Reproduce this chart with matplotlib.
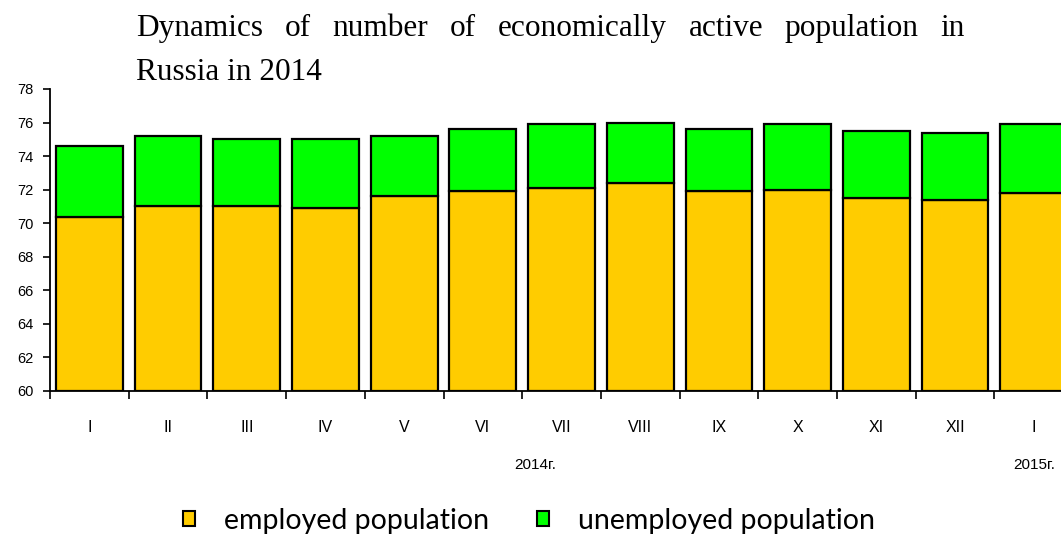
import matplotlib
matplotlib.use("Agg")
import matplotlib.pyplot as plt
import numpy as np

months = ["I", "II", "III", "IV", "V", "VI", "VII", "VIII", "IX", "X", "XI", "XII", "I"]
employed = [70.4, 71.0, 71.0, 70.9, 71.6, 71.9, 72.1, 72.4, 71.9, 72.0, 71.5, 71.4, 71.8]
unemployed = [4.2, 4.2, 4.0, 4.1, 3.6, 3.7, 3.8, 3.6, 3.7, 3.9, 4.0, 4.0, 4.1]
year_labels = ["2014г.", "2015г."]
year_pos = [5.66, 12.0]
title_line1 = "Dynamics of number of economically active population in"
title_line2 = "Russia in 2014"

narrow = ["Liberation Sans", "DejaVu Sans"]
serif = ["Liberation Serif", "DejaVu Serif"]
legend_font = ["Lato", "DejaVu Sans"]

W, H = 1061, 539
fig = plt.figure(figsize=(W/100, H/100), dpi=100)
ax = fig.add_axes([50/W, 1-391/H, 13*78.7/W, (391-89)/H])

x = np.arange(len(months))
base = 60
emp_h = np.array(employed) - base
ax.bar(x, emp_h, bottom=base, width=0.85, color="#FFCC00", edgecolor="black", linewidth=1.6,
       label="employed population")
ax.bar(x, unemployed, bottom=employed, width=0.85, color="#00FF00", edgecolor="black", linewidth=1.6,
       label="unemployed population")

ax.set_xlim(-0.5, 12.5)
ax.set_ylim(60, 78)
ax.set_yticks(np.arange(60, 79, 2))
ax.set_yticklabels([str(v) for v in range(60, 79, 2)], family=narrow, fontsize=10.5)
ax.tick_params(axis="y", length=5, width=1.2, direction="out", pad=7)
ax.set_xticks(x)
ax.set_xticklabels(months, family=narrow, fontsize=11.5)
ax.tick_params(axis="x", which="major", length=0, pad=21)
ax.set_xticks(np.arange(-0.5, 12.6, 1), minor=True)
ax.tick_params(axis="x", which="minor", length=6, width=1.2, direction="out")
for s in ["top", "right"]:
    ax.spines[s].set_visible(False)
for s in ["left", "bottom"]:
    ax.spines[s].set_linewidth(1.3)

for lab, pos in zip(year_labels, year_pos):
    ax.text(pos, -0.245, lab, transform=ax.get_xaxis_transform(), ha="center", va="center",
            family=narrow, fontsize=11, clip_on=False)

# justified title line 1
fig.canvas.draw()
renderer = fig.canvas.get_renderer()
words = title_line1.split()
x0, x1 = 136/W, 965/W
ty1 = 1 - 36/H
texts = [fig.text(0, ty1, w, family=serif, fontsize=22.5, ha="left", va="baseline") for w in words]
widths = [t.get_window_extent(renderer).width/W for t in texts]
gap = (x1 - x0 - sum(widths)) / (len(words) - 1)
cur = x0
for t, w in zip(texts, widths):
    t.set_x(cur)
    cur += w + gap
fig.text(x0, 1 - 80/H, title_line2, family=serif, fontsize=22.5, ha="left", va="baseline")

leg = fig.legend(loc="center", bbox_to_anchor=(529/W, 1 - 521/H), ncol=2, frameon=False,
                 prop={"family": legend_font, "size": 20.5}, handlelength=0.42, handleheight=0.42,
                 handletextpad=1.0, columnspacing=1.7)
for h in leg.legend_handles:
    h.set_linewidth(1.5)

fig.savefig("out.png", dpi=100)
